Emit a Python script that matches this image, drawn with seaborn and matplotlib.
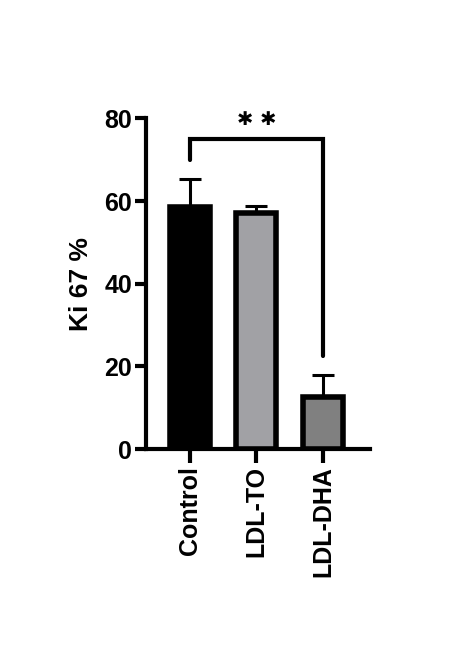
import matplotlib
matplotlib.use("Agg")
import matplotlib.pyplot as plt
import seaborn as sns
import pandas as pd

groups = ["Control", "LDL-TO", "LDL-DHA"]
ki67_mean = [58.5, 57.2, 12.6]
ki67_err = [6.8, 1.5, 5.3]
bar_colors = ["#000000", "#a1a1a5", "#808080"]

sns.set_style("ticks")
plt.rcParams['font.family'] = ['Liberation Sans', 'DejaVu Sans']
plt.rcParams['font.weight'] = 'bold'
for key in ["text.color", "axes.labelcolor", "xtick.color", "ytick.color", "axes.edgecolor"]:
    plt.rcParams[key] = "black"

df = pd.DataFrame({"group": groups, "ki67": ki67_mean})

fig = plt.figure(figsize=(4.5, 6.5), dpi=100)
ax = fig.add_axes([0.324, 0.309, 0.498, 0.509])

sns.barplot(data=df, x="group", y="ki67", hue="group", palette=bar_colors,
            width=0.6, edgecolor="black", linewidth=4, legend=False, ax=ax, zorder=3)

# upper error bars only
ax.errorbar(range(len(groups)), ki67_mean, yerr=[[0, 0, 0], ki67_err], fmt="none",
            ecolor="black", elinewidth=2.2, capsize=8, capthick=2.2, zorder=2)

# significance bracket Control vs LDL-DHA
ax.plot([0, 0, 2, 2], [70, 74.9, 74.9, 22.5], color="black", lw=3, clip_on=False,
        solid_joinstyle="miter")
ax.text(1, 79.8, "✱ ✱", ha="center", va="center", fontsize=14,
        family="DejaVu Sans", fontweight="bold")

ax.set_ylim(0, 80)
ax.set_xlim(-0.657, 2.70)
ax.set_yticks([0, 20, 40, 60, 80])
ax.set_xlabel("")
ax.set_ylabel("Ki 67 %", fontsize=19, fontweight="bold", labelpad=8)
ax.tick_params(axis="y", labelsize=18, width=3, length=8, pad=2)
ax.tick_params(axis="x", labelsize=18, width=3, length=10, rotation=90, pad=2)
for lab in ax.get_xticklabels() + ax.get_yticklabels():
    lab.set_fontweight("bold")
for s in ["left", "bottom"]:
    ax.spines[s].set_linewidth(3)
sns.despine(ax=ax)

fig.savefig("out.png", dpi=100)
